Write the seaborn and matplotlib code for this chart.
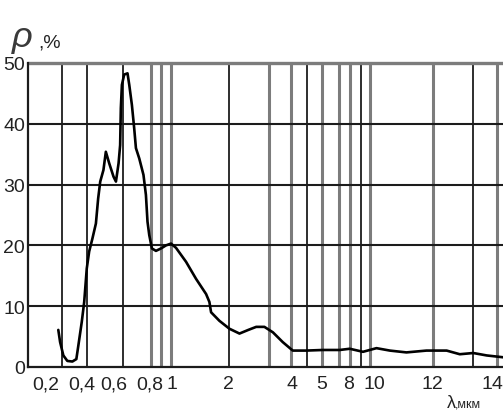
import numpy as np
import pandas as pd
import matplotlib
matplotlib.use("Agg")
import matplotlib.pyplot as plt
import matplotlib.transforms as mtransforms
import seaborn as sns

# Spectral reflectance curve: wavelength (um) and reflectance (%)
wavelength = [0.268, 0.278, 0.296, 0.318, 0.346, 0.368, 0.379, 0.398, 0.413, 0.429,
              0.444, 0.464, 0.486, 0.500, 0.513, 0.533, 0.548, 0.569, 0.596, 0.610,
              0.625, 0.634, 0.638, 0.644, 0.657, 0.676, 0.686, 0.701, 0.714, 0.724,
              0.743, 0.767, 0.781, 0.790, 0.800, 0.823, 0.858, 0.902, 0.945, 0.989,
              1.066, 1.245, 1.423, 1.602, 1.661, 1.691, 1.839, 2.03, 2.35, 2.63,
              2.88, 3.14, 3.41, 3.72, 4.04, 4.49, 5.14, 7.0, 8.08, 9.1,
              10.06, 10.52, 11.09, 11.78, 12.43, 12.84, 13.26, 13.68, 14.19]
reflectance = [6.1, 4.1, 1.9, 1.0, 0.9, 1.3, 3.5, 7.4, 10.7, 16.2,
               19.0, 21.1, 23.6, 27.7, 30.5, 32.4, 35.4, 33.5, 31.3, 30.5,
               33.5, 36.5, 42.6, 46.4, 48.1, 48.3, 46.4, 43.1, 39.3, 36.0,
               34.3, 31.6, 28.3, 23.9, 21.7, 19.5, 19.1, 19.5, 20.0, 20.3,
               19.6, 17.3, 14.5, 12.0, 10.7, 9.0, 7.6, 6.3, 5.5, 6.1,
               6.6, 6.6, 5.7, 4.1, 2.7, 2.7, 2.8, 2.8, 3.0, 2.5,
               3.1, 2.7, 2.4, 2.7, 2.7, 2.1, 2.3, 1.9, 1.6]

# Axis tick labels
x_ticks = [0.2, 0.4, 0.6, 0.8, 1, 2, 4, 5, 8, 10, 12, 14]
x_tick_labels = ["0,2", "0,4", "0,6", "0,8", "1", "2", "4", "5", "8", "10", "12", "14"]
y_ticks = [0, 10, 20, 30, 40, 50]

# Non-uniform wavelength axis: piecewise-linear breakpoints (wavelength -> axis units)
scale_lambda = [0.1, 0.2, 0.4, 0.6, 0.8, 1, 2, 4, 5, 8, 10, 12, 14, 16]
scale_units = [29, 47, 83, 115, 150, 173, 229, 292, 322, 349, 375, 433, 497, 561]

# Vertical grid lines (two stroke styles)
grid_dark = [0.289, 0.431, 0.651, 2.03, 4.53, 8.92, 13.25]
grid_gray = [0.817, 0.904, 0.991, 3.30, 3.97, 5.0, 6.89, 8.08, 9.62, 12.0, 14.0]


def forward(x):
    return np.interp(x, scale_lambda, scale_units)


def inverse(u):
    return np.interp(u, scale_units, scale_lambda)


sns.set_style("white")
plt.rcParams["font.family"] = ["Liberation Sans", "DejaVu Sans"]

fig = plt.figure(figsize=(5.03, 4.14), dpi=100)
ax = fig.add_axes([28 / 503, 46 / 414, 475 / 503, 304 / 414])

df = pd.DataFrame({"wavelength": wavelength, "reflectance": reflectance})

ax.set_xscale("function", functions=(forward, inverse))
ax.set_xlim(inverse(28), inverse(503))
ax.set_ylim(0, 50)

dark = "#1c1c1c"
gray = "#7c7c7c"
for g in grid_dark:
    ax.axvline(g, color=dark, lw=1.3, zorder=1)
for g in grid_gray:
    ax.axvline(g, color=gray, lw=2.2, zorder=1)
for h in [10, 20, 30, 40]:
    ax.axhline(h, color=dark, lw=1.5, zorder=1)
ax.axhline(50, color=gray, lw=2.4, zorder=1, clip_on=False)

sns.lineplot(data=df, x="wavelength", y="reflectance", sort=False,
             color="black", lw=1.9, ax=ax, zorder=3)

ax.set_xticks(x_ticks)
ax.set_xticklabels(x_tick_labels)
ax.set_yticks(y_ticks)
ax.xaxis.set_minor_locator(matplotlib.ticker.NullLocator())
ax.tick_params(axis="both", length=0, labelsize=14, colors="#222222")
ax.tick_params(axis="x", pad=6)
ax.tick_params(axis="y", pad=2)
ax.set_xlabel("")
ax.set_ylabel("")

# keep the last wavelength label inside the figure edge
last = ax.get_xticklabels()[-1]
last.set_horizontalalignment("right")
last.set_transform(last.get_transform() +
                   mtransforms.ScaledTranslation(6 / 100, 0, fig.dpi_scale_trans))

for side in ["top", "right"]:
    ax.spines[side].set_visible(False)
for side in ["left", "bottom"]:
    ax.spines[side].set_color(dark)
    ax.spines[side].set_linewidth(1.6)

# Axis titles
fig.text(12 / 503, 1 - 47 / 414, "ρ", fontsize=26, style="italic",
         color="#3a3a3a")
fig.text(38 / 503, 1 - 47 / 414, ",%", fontsize=14, color="#222222")
fig.text(447 / 503, 1 - 408 / 414, "λ", fontsize=13, color="#222222")
fig.text(455 / 503, 1 - 408 / 414, ",мкм", fontsize=9, color="#222222")

fig.savefig("out.png", dpi=100)
